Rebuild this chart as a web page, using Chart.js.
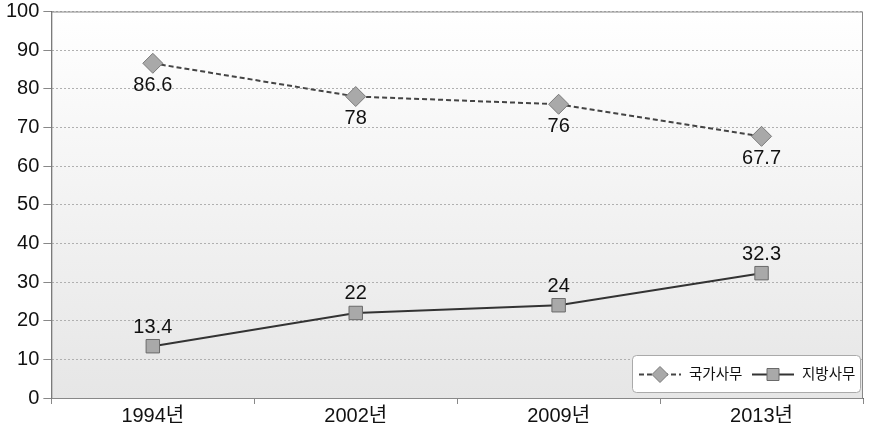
<!DOCTYPE html>
<html><head><meta charset="utf-8">
<script src="https://cdn.jsdelivr.net/npm/chart.js@4/dist/chart.umd.min.js"></script>
<style>html,body{margin:0;padding:0;background:#fff}#w{width:874px;height:425px}</style>
</head><body><div id="w"><canvas id="c"></canvas></div>
<script>
const categories = ['1994년','2002년','2009년','2013년'];
const national = [86.6, 78, 76, 67.7];
const local = [13.4, 22, 24, 32.3];
const nationalName = '국가사무';
const localName = '지방사무';
const FONT = "'Liberation Sans', Arial, 'Noto Sans CJK KR', sans-serif";

const bgPlugin = {
  id:'bg',
  beforeDraw(chart){
    const {ctx, chartArea:a} = chart;
    const g = ctx.createLinearGradient(0,a.top,0,a.bottom);
    g.addColorStop(0,'#ffffff'); g.addColorStop(1,'#e6e6e6');
    ctx.save(); ctx.fillStyle=g; ctx.fillRect(a.left,a.top,a.right-a.left,a.bottom-a.top); ctx.restore();
  },
  afterDraw(chart){
    const {ctx, chartArea:a} = chart;
    ctx.save();
    ctx.strokeStyle='#888'; ctx.lineWidth=1;
    ctx.strokeRect(a.left+0.5,a.top+0.5,a.right-a.left-1,a.bottom-a.top);
    // labels
    ctx.font = "20px "+FONT; ctx.fillStyle='#111'; ctx.textAlign='center';
    chart.data.datasets.forEach((ds,i)=>{
      const meta = chart.getDatasetMeta(i);
      meta.data.forEach((pt,j)=>{
        const v = String(ds.data[j]);
        if(i===0){ ctx.textBaseline='top'; ctx.fillText(v, pt.x, pt.y+12); }
        else { ctx.textBaseline='bottom'; ctx.fillText(v, pt.x, pt.y-9); }
      });
    });
    // legend
    const lx=632, ly=355, lw=228, lh=37;
    ctx.fillStyle='#fff'; ctx.strokeStyle='#aaa'; ctx.lineWidth=1;
    ctx.beginPath(); ctx.roundRect(lx+0.5,ly+0.5,lw,lh,4); ctx.fill(); ctx.stroke();
    const cy = ly+lh/2+1;
    chart.data.datasets.forEach((ds,i)=>{
      const x0 = i===0 ? lx+7 : lx+120;
      ctx.strokeStyle=ds.borderColor; ctx.lineWidth=2; ctx.setLineDash(ds.borderDash||[]);
      ctx.beginPath(); ctx.moveTo(x0,cy); ctx.lineTo(x0+42,cy); ctx.stroke(); ctx.setLineDash([]);
      ctx.fillStyle=ds.pointBackgroundColor; ctx.strokeStyle=ds.pointBorderColor; ctx.lineWidth=1;
      ctx.beginPath();
      const mx = x0+21;
      if(i===0){ ctx.moveTo(mx,cy-8); ctx.lineTo(mx+8,cy); ctx.lineTo(mx,cy+8); ctx.lineTo(mx-8,cy); ctx.closePath(); }
      else { ctx.rect(mx-6,cy-6,12,12); }
      ctx.fill(); ctx.stroke();
      ctx.fillStyle='#111'; ctx.font="14.5px "+FONT; ctx.textAlign='left'; ctx.textBaseline='middle';
      ctx.fillText(ds.label, x0+50, cy);
    });
    ctx.restore();
  }
};

new Chart(document.getElementById('c'),{
  type:'line',
  data:{labels:categories,datasets:[
    {label:nationalName,data:national,borderColor:'#444',borderWidth:2,borderDash:[5,3],
     pointStyle:'rectRot',pointRadius:10,pointHoverRadius:10,pointBackgroundColor:'#a9a9a9',pointBorderColor:'#7a7a7a',pointBorderWidth:1},
    {label:localName,data:local,borderColor:'#333',borderWidth:2,
     pointStyle:'rect',pointRadius:9.5,pointHoverRadius:9.5,pointBackgroundColor:'#a9a9a9',pointBorderColor:'#6a6a6a',pointBorderWidth:1}
  ]},
  options:{
    responsive:true,maintainAspectRatio:false,animation:false,
    layout:{padding:{top:0,right:7,left:2,bottom:-3}},
    plugins:{legend:{display:false},tooltip:{enabled:false}},
    scales:{
      x:{offset:true,
        grid:{offset:true,drawOnChartArea:false,drawTicks:true,tickLength:6,color:'#888'},
        border:{display:true,color:'#666'},
        ticks:{color:'#111',font:{size:20,family:FONT},padding:0}},
      y:{min:0,max:100,
        ticks:{stepSize:10,color:'#111',font:{size:20,family:FONT,lineHeight:0.75},padding:4},
        grid:{color:'#b0b0b0',tickLength:8,tickColor:'#888'},
        border:{display:true,color:'#666',dash:[2,2]}}
    }
  },
  plugins:[bgPlugin]
});
</script></body></html>
